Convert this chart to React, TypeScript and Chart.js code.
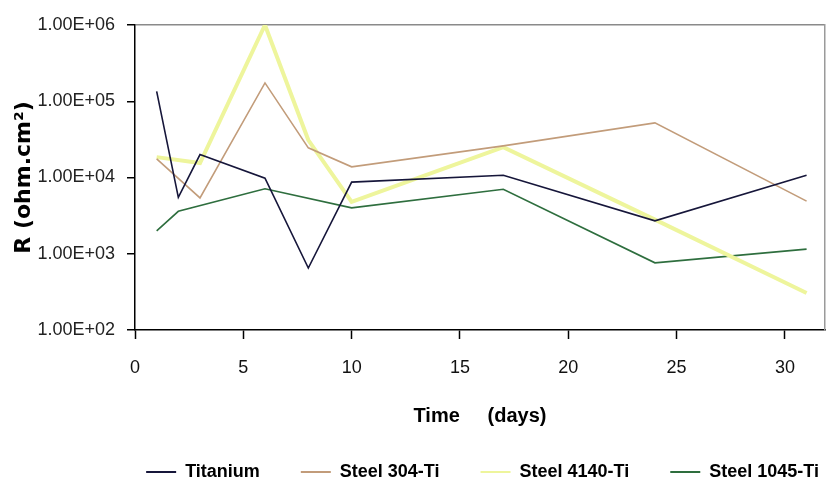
import { useEffect, useRef } from 'react';
import { Chart, registerables } from 'chart.js';

Chart.register(...registerables);

// ---- data ----
const seriesNames = ['Titanium', 'Steel 304-Ti', 'Steel 4140-Ti', 'Steel 1045-Ti'];
const seriesColors = ['#16163a', '#c29c7a', '#eef59c', '#2e6e3e'];
const seriesWidths = [1.6, 1.6, 4, 1.6];

const titaniumDays = [1, 2, 3, 6, 8, 10, 17, 24, 31];
const titaniumR = [1.35e5, 5.5e3, 2.0e4, 9.8e3, 650, 8.7e3, 1.07e4, 2.7e3, 1.07e4];

const steel304Days = [1, 3, 6, 8, 10, 17, 24, 31];
const steel304R = [1.75e4, 5.4e3, 1.74e5, 2.45e4, 1.38e4, 2.6e4, 5.2e4, 4.9e3];

const steel4140Days = [1, 3, 6, 8, 10, 17, 24, 31];
const steel4140R = [1.85e4, 1.55e4, 1.0e6, 3.1e4, 4.8e3, 2.5e4, 2.8e3, 3.05e2];

const steel1045Days = [1, 2, 6, 10, 17, 24, 31];
const steel1045R = [2.0e3, 3.6e3, 7.1e3, 4.0e3, 7.0e3, 7.6e2, 1.15e3];

const yTickValues = [1e2, 1e3, 1e4, 1e5, 1e6];
const xStep = 5;
const xMin = 0;
const xMax = 31.85;
const xTitle = 'Time     (days)';
const yTitle = 'R (ohm.cm\u00B2)';

const SANS = "'Liberation Sans', Arial, sans-serif";

function fmtExp(v: number): string {
  const [m, e] = v.toExponential(2).split('e');
  const sign = e[0] === '-' ? '-' : '+';
  const digits = e.replace(/^[+-]/, '').padStart(2, '0');
  return `${m}E${sign}${digits}`;
}

function zip(xs: number[], ys: number[]) {
  return xs.map((x, i) => ({ x, y: ys[i] }));
}

const W = 860;
const H = 491;
const PLOT_BOTTOM = 330;
const PLOT_LEFT = 135;
const PLOT_RIGHT = 825;

export default function App() {
  const ref = useRef<HTMLCanvasElement>(null);

  useEffect(() => {
    const allDays = [titaniumDays, steel304Days, steel4140Days, steel1045Days];
    const allR = [titaniumR, steel304R, steel4140R, steel1045R];
    const chart = new Chart(ref.current!, {
      type: 'line',
      data: {
        datasets: seriesNames.map((name, i) => ({
          label: name,
          data: zip(allDays[i], allR[i]),
          borderColor: seriesColors[i],
          backgroundColor: seriesColors[i],
          borderWidth: seriesWidths[i],
          pointRadius: 0,
          tension: 0,
          fill: false,
        })),
      },
      options: {
        animation: false,
        responsive: true,
        maintainAspectRatio: false,
        devicePixelRatio: 1,
        layout: { padding: { left: 0, right: 0, top: 25, bottom: 0 } },
        plugins: {
          tooltip: { enabled: false },
          legend: {
            position: 'bottom',
            align: 'end',
            labels: {
              boxWidth: 30,
              boxHeight: 2,
              padding: 41,
              color: '#000',
              font: { family: SANS, size: 18, weight: 'bold' },
              generateLabels: (c: any) => {
                const items = Chart.defaults.plugins.legend.labels.generateLabels(c);
                return items.map((it: any) => ({ ...it, lineWidth: 0, fillStyle: it.strokeStyle }));
              },
            },
          },
        },
        scales: {
          x: {
            type: 'linear',
            position: 'bottom',
            min: xMin,
            max: xMax,
            afterFit: (scale: any) => {
              const legH = scale.chart.legend ? scale.chart.legend.height : 0;
              scale.height = H - PLOT_BOTTOM - legH;
            },
            ticks: {
              stepSize: xStep,
              includeBounds: false,
              color: '#111',
              padding: 18,
              maxRotation: 0,
              font: { family: SANS, size: 18 },
              callback: (v: any) => String(v),
            },
            grid: { drawOnChartArea: false, drawTicks: true, tickLength: 9, tickColor: '#000', tickWidth: 1.5 },
            border: { color: '#000', width: 1.5 },
            title: {
              display: true,
              text: xTitle,
              color: '#000',
              font: { family: SANS, size: 20, weight: 'bold' },
              padding: { top: 0, bottom: -6 },
            },
          },
          y: {
            type: 'logarithmic',
            position: 'left',
            min: 1e2,
            max: 1e6,
            afterBuildTicks: (scale: any) => {
              scale.ticks = yTickValues.map((v) => ({ value: v }));
            },
            afterFit: (scale: any) => {
              scale.width = PLOT_LEFT;
            },
            ticks: {
              color: '#222',
              padding: 12,
              font: { family: SANS, size: 18 },
              callback: (v: any) => fmtExp(Number(v)),
            },
            grid: {
              drawOnChartArea: true,
              drawTicks: true,
              tickLength: 8,
              tickColor: '#000',
              lineWidth: 1.5,
              color: (ctx: any) => (ctx.tick && ctx.tick.value === 1e6 ? '#8a8a8a' : 'rgba(0,0,0,0)'),
            },
            border: { color: '#000', width: 1.5 },
            title: {
              display: true,
              text: yTitle,
              color: '#000',
              font: { family: "'DejaVu Sans', sans-serif", size: 22, weight: 'bold' },
              padding: { top: 11, bottom: 0 },
            },
          },
          yRight: {
            type: 'linear',
            position: 'right',
            display: true,
            afterFit: (scale: any) => {
              scale.width = W - PLOT_RIGHT;
            },
            ticks: { display: false },
            grid: { display: false, drawTicks: false },
            border: { color: '#9a9a9a', width: 1.5 },
          },
        },
      } as any,
    });
    return () => chart.destroy();
  }, []);

  return (
    <div style={{ position: 'fixed', left: 0, top: 0, width: W, height: H, background: '#fff' }}>
      <canvas ref={ref} />
    </div>
  );
}
